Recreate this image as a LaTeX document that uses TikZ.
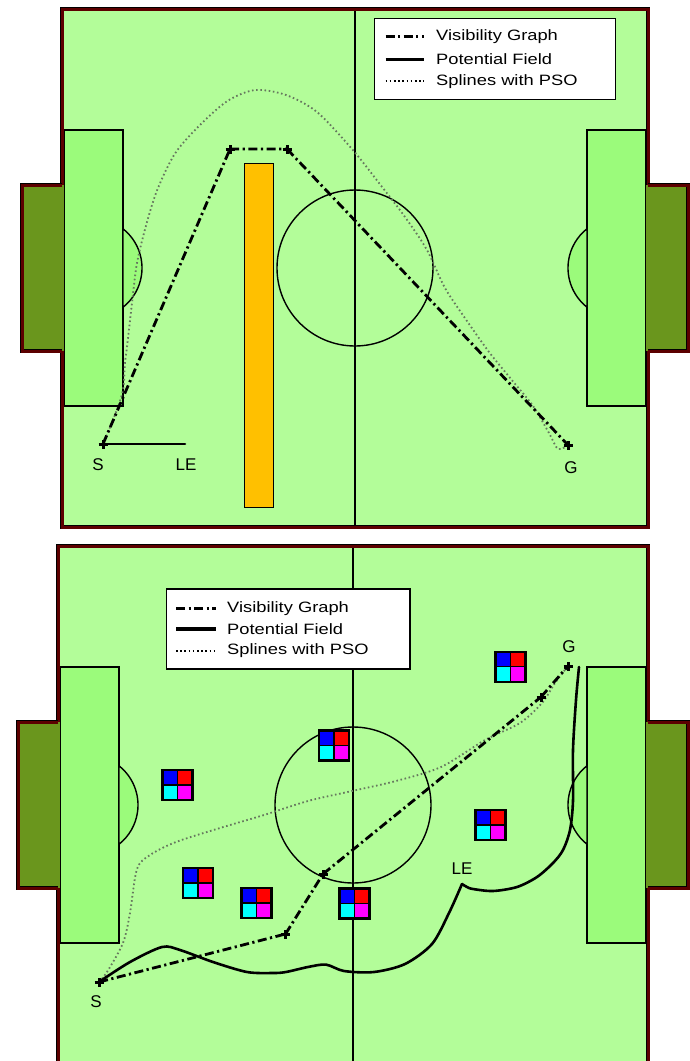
\documentclass[tikz,border=0pt]{standalone}
\usepackage{fontspec}
\setmainfont{Liberation Sans}
\newfontfamily\legendfont[FakeStretch=1.22]{Liberation Sans}
\usepackage{tikz}
\definecolor{pitchgreen}{HTML}{B3FD99}
\definecolor{areagreen}{HTML}{9BFB7B}
\definecolor{goalgreen}{HTML}{6A961D}
\definecolor{borderred}{HTML}{5C0000}
\definecolor{obstacle}{HTML}{FFC000}
\definecolor{splinegray}{HTML}{66785E}
\definecolor{roboblue}{HTML}{0000FF}
\definecolor{robored}{HTML}{FF0000}
\definecolor{robocyan}{HTML}{00FFFF}
\definecolor{robomagenta}{HTML}{FF00FF}

\begin{document}
\begin{tikzpicture}[x=1pt,y=-1pt,
  fieldline/.style={black,line width=1.4pt},
  frame/.style={draw=black,line width=0.9pt,double=borderred,double distance=3pt},
  area/.style={fill=areagreen,draw=black,line width=1.4pt},
  visline/.style={black,line width=2.8pt,dash pattern=on 9pt off 3.5pt on 2.2pt off 3.5pt},
  potline/.style={black,line width=2.6pt,line cap=round,line join=round},
  splline/.style={splinegray,line width=1.8pt,dash pattern=on 1.6pt off 2.6pt},
  wpt/.style={inner sep=0pt,minimum size=0pt},
  plusline/.style={black,line width=3pt},
  lbl/.style={font=\fontsize{17}{20}\selectfont,inner sep=0pt},
  legtxt/.style={anchor=west,inner sep=0pt,font=\legendfont\fontsize{15}{18}\selectfont},
  legframe/.style={draw=black,fill=white,line width=1.4pt}
]
  \useasboundingbox (0,0) rectangle (690,1061);
  \clip (0,0) rectangle (690,1061);

  % Two pitches (top: obstacle wall, bottom: robots)
  \foreach \fx/\fy/\fw in {62/9/586,58/546/590}{
    \begin{scope}[shift={(\fx,\fy)}]
      \fill[pitchgreen] (0,0) rectangle (\fw,518);
      \draw[frame] (0,0) rectangle (\fw,518);
      % goals
      \fill[goalgreen] (-40,176) rectangle (2.4,342);
      \fill[goalgreen] (\fw-2.4,176) rectangle (\fw+40,342);
      \draw[frame] (0,176) -- (-40,176) -- (-40,342) -- (0,342);
      \draw[frame] (\fw,176) -- (\fw+40,176) -- (\fw+40,342) -- (\fw,342);
      % penalty areas
      \filldraw[area] (2.4,121) rectangle (61,397);
      \filldraw[area] (\fw-61,121) rectangle (\fw-2.4,397);
      \filldraw[area] (61,219.8) arc[start angle=-51.7,end angle=51.7,radius=50] -- cycle;
      \filldraw[area] (\fw-61,298.2) arc[start angle=128.3,end angle=231.7,radius=50] -- cycle;
      % halfway line and centre circle
      \draw[fieldline] (\fw/2,2.4) -- (\fw/2,515.6);
      \draw[fieldline] (\fw/2,259) circle (78);
    \end{scope}
  }

  % Wall obstacle
  \filldraw[fill=obstacle,draw=black,line width=0.9pt] (244,163) rectangle (273,507);

  % Legends
  \draw[legframe] (374.5,18.6) rectangle (615.5,99.2);
  \node[legtxt] (vgA) at (436,36.5) {Visibility Graph};
  \node[legtxt] (pfA) at (436,59.2) {Potential Field};
  \node[legtxt] (spA) at (436,81.2) {Splines with PSO};
  \draw[visline] ([xshift=-50.5pt]vgA.west) -- ([xshift=-12pt]vgA.west);
  \draw[potline,line width=3.2pt,line cap=butt] ([xshift=-50.5pt]pfA.west) -- ([xshift=-12pt]pfA.west);
  \draw[splline,black] ([xshift=-50.5pt]spA.west) -- ([xshift=-12pt]spA.west);

  \draw[legframe] (166.5,589) rectangle (409.8,669);
  \node[legtxt] (vgB) at (227,608.6) {Visibility Graph};
  \node[legtxt] (pfB) at (227,629) {Potential Field};
  \node[legtxt] (spB) at (227,651) {Splines with PSO};
  \draw[visline] ([xshift=-51pt]vgB.west) -- ([xshift=-11pt]vgB.west);
  \draw[potline,line width=3.2pt,line cap=butt] ([xshift=-51pt]pfB.west) -- ([xshift=-11pt]pfB.west);
  \draw[splline,black] ([xshift=-51pt]spB.west) -- ([xshift=-11pt]spB.west);

  % Top pitch: start, waypoints, goal
  \node[wpt] (S1) at (103,444) {};
  \node[wpt] (W1a) at (230,149) {};
  \node[wpt] (W1b) at (287,149) {};
  \node[wpt] (G1) at (568,445) {};
  \coordinate (LE1) at (185,444);

  \draw[splline] plot[smooth] coordinates {(S1) (115,415) (123,390) (125,363)
    (127,347) (132,303) (137,263) (147,222) (158,188) (176,152) (203,122) (229,100)
    (255.5,90) (286,95) (317,112) (352,149) (379,183) (405,217) (427,250) (445,288)
    (467,321) (489,352) (511,379) (533,406) (549,433) (558,449) (G1)};
  \draw[visline] (S1) -- (W1a) -- (W1b) -- (G1);
  \draw[potline] (S1) -- (LE1);

  \node[lbl] (S1lbl) at (98,465) {S};
  \node[lbl] (LE1lbl) at (186,465) {LE};
  \node[lbl] (G1lbl) at (571,468) {G};

  % Bottom pitch: start, waypoints, goal
  \node[wpt] (S2) at (99,982) {};
  \node[wpt] (V2a) at (285.5,934) {};
  \node[wpt] (V2b) at (323,874) {};
  \node[wpt] (V2c) at (541,697) {};
  \node[wpt] (G2) at (568,666) {};
  \coordinate (LE2) at (462,884);
  \coordinate (PF2) at (579,667);

  \draw[splline] plot[smooth] coordinates {(S2) (107,972) (123,943) (130,913)
    (137,869) (150,855) (176,842) (220,828) (264,815) (308,801) (352,791) (396,781)
    (441,767) (485,740) (520,723) (542,703) (555,683) (G2)};
  \draw[visline] (S2) -- (V2a) -- (V2b) -- (V2c) -- (G2);
  \draw[potline] plot[smooth] coordinates {(S2) (130,962) (162,947) (180,950)
    (213,962) (247,972) (273,973) (286,972) (308,967) (326,964.6) (344,971) (374,972)
    (405,964) (432,944) (449,913) (LE2)};
  \draw[potline] plot[smooth] coordinates {(LE2) (467,887) (473,889) (493,891) (517,887)
    (537,877) (553,863) (563,850) (570,830) (573,801) (573,750) (576,700) (PF2)};

  \node[lbl] (S2lbl) at (96,1002) {S};
  \node[lbl] (LE2lbl) at (462,869) {LE};
  \node[lbl] (G2lbl) at (569,647) {G};

  % Plus marks on top of the paths
  \foreach \p in {S1,W1a,W1b,G1,S2,V2a,V2b,V2c,G2}{
    \draw[plusline] ([xshift=-4.5pt]\p.center) -- ([xshift=4.5pt]\p.center)
      ([yshift=-4.5pt]\p.center) -- ([yshift=4.5pt]\p.center);
  }

  % Robots (blue/red over cyan/magenta)
  \foreach \rx/\ry in {510.6/666.7,334/745.5,177.5/785,490.4/825,197.8/883,256.6/903,354.5/903.4}{
    \fill[roboblue] (\rx-15,\ry-15) rectangle (\rx,\ry);
    \fill[robored] (\rx,\ry-15) rectangle (\rx+15,\ry);
    \fill[robocyan] (\rx-15,\ry) rectangle (\rx,\ry+15);
    \fill[robomagenta] (\rx,\ry) rectangle (\rx+15,\ry+15);
    \draw[line width=1.4pt] (\rx,\ry-15) -- (\rx,\ry+15) (\rx-15,\ry) -- (\rx+15,\ry);
    \draw[line width=2.4pt] (\rx-15,\ry-15) rectangle (\rx+15,\ry+15);
  }
\end{tikzpicture}
\end{document}
